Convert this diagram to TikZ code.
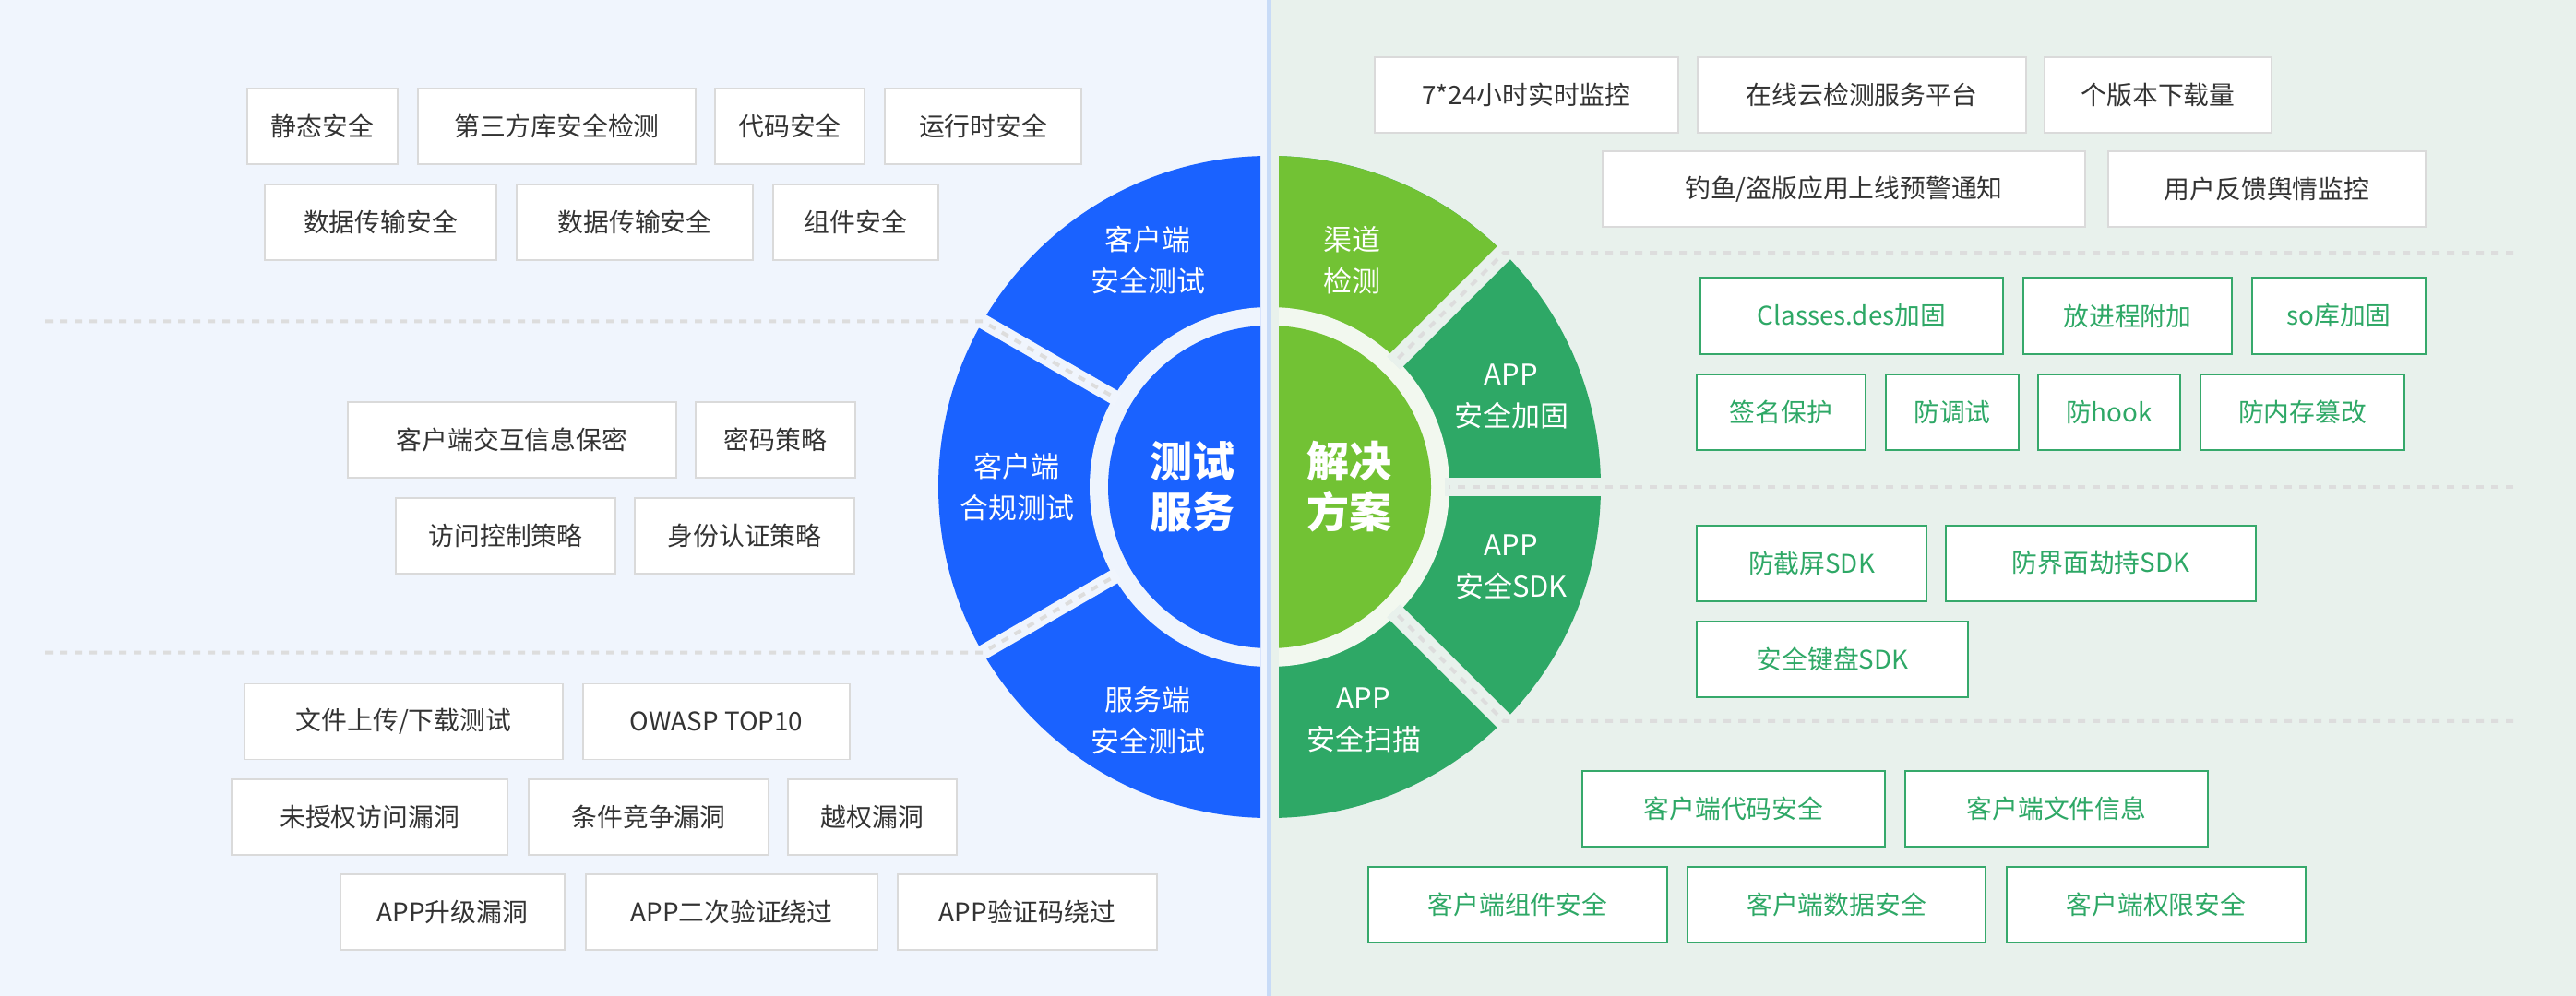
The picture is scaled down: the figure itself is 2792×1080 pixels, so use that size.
\documentclass[tikz,border=0pt]{standalone}
\usepackage{fontspec}
\setmainfont{Noto Sans CJK SC}
\definecolor{leftbg}{HTML}{F0F5FD}
\definecolor{rightbg}{HTML}{E8F1EC}
\definecolor{leftring}{HTML}{EEF4FD}
\definecolor{rightring}{HTML}{F2F8EF}
\definecolor{divc}{HTML}{C8DBF7}
\definecolor{cblue}{HTML}{1A62FF}
\definecolor{lgreen}{HTML}{72C234}
\definecolor{dgreen}{HTML}{2EA866}
\definecolor{boxgray}{HTML}{DADADA}
\definecolor{boxgreen}{HTML}{36A96B}
\definecolor{tgreen}{HTML}{2EA866}
\definecolor{txtdark}{HTML}{333333}
\definecolor{dashgray}{HTML}{DDDDDD}
\begin{document}
\begin{tikzpicture}[x=0.5pt,y=-0.5pt,
  box/.style={draw=boxgray, line width=0.85pt, fill=white, minimum height=41pt, inner sep=0pt, text=txtdark, font=\fontsize{13.9}{16}\selectfont},
  gbox/.style={box, draw=boxgreen, line width=1pt, text=tgreen},
  bw/.style={minimum width=#1*0.5pt},
  seglbl/.style={text=white, align=center, font=\fontsize{15.5}{22.5}\selectfont},
  ctr/.style={text=white, align=center, font=\fontsize{23}{27.5}\selectfont\bfseries},
  dashln/.style={draw=dashgray, line width=2pt, dash pattern=on 4pt off 4pt},
]
\useasboundingbox (0,0) rectangle (2792,1080);
\fill[leftbg] (0,0) rectangle (1376,1080);
\fill[rightbg] (1376,0) rectangle (2792,1080);

% left half
\begin{scope}
\clip (0,0) rectangle (1366,1080);
\fill[cblue] (1376,528) circle[radius=359];
\fill[leftring] (1376,528) circle[radius=195];
\draw[leftbg, line width=8pt] (1376,528) ++(210:190) -- ++(210:200);
\draw[leftbg, line width=8pt] (1376,528) ++(150:190) -- ++(150:200);
\end{scope}
% right half
\begin{scope}
\clip (1386,0) rectangle (2792,1080);
\fill[dgreen] (1376,528) circle[radius=359];
\fill[lgreen] (1376,528) -- ++(-90:359) arc[start angle=-90,end angle=-45,radius=359] -- cycle;
\fill[rightring] (1376,528) circle[radius=195];
\draw[rightbg, line width=10pt] (1376,528) ++(-45:190) -- ++(-45:200);
\draw[rightbg, line width=10pt] (1376,528) ++(0:190) -- ++(0:200);
\draw[rightbg, line width=10pt] (1376,528) ++(45:190) -- ++(45:200);
\end{scope}

% dashed separators
\coordinate (dl1a) at (49,348.5);
\coordinate (dl1b) at (1065.1,348.5);
\coordinate (dl1c) at (1207.1,430.5);
\coordinate (dl2a) at (49,707.5);
\coordinate (dl2b) at (1065.1,707.5);
\coordinate (dl2c) at (1207.1,625.5);
\coordinate (dr1a) at (2724,274.1);
\coordinate (dr1b) at (1629.9,274.1);
\coordinate (dr1c) at (1513.9,390.1);
\coordinate (dr2a) at (2724,528);
\coordinate (dr2c) at (1571,528);
\coordinate (dr3a) at (2724,781.9);
\coordinate (dr3b) at (1629.9,781.9);
\coordinate (dr3c) at (1513.9,665.9);
\draw[dashln] (dl1a) -- (dl1b) -- (dl1c);
\draw[dashln] (dl2a) -- (dl2b) -- (dl2c);
\draw[dashln] (dr1a) -- (dr1b) -- (dr1c);
\draw[dashln] (dr2a) -- (dr2c);
\draw[dashln] (dr3a) -- (dr3b) -- (dr3c);

% inner discs
\begin{scope}
\clip (0,0) rectangle (1366,1080);
\fill[cblue] (1376,528) circle[radius=175];
\end{scope}
\begin{scope}
\clip (1386,0) rectangle (2792,1080);
\fill[lgreen] (1376,528) circle[radius=175];
\end{scope}

% divider
\draw[divc, line width=2.5pt] (1375.5,0) -- (1375.5,1080);

% wheel labels
\node[seglbl] (s1) at (1244,282) {客户端\\安全测试};
\node[seglbl] (s2) at (1102,528) {客户端\\合规测试};
\node[seglbl] (s3) at (1244,781) {服务端\\安全测试};
\node[ctr] (c1) at (1292,528) {测试\\服务};
\node[ctr] (c2) at (1462,528) {解决\\方案};
\node[seglbl] (s4) at (1465,282) {渠道\\检测};
\node[seglbl] (s5) at (1638,430) {APP\\安全加固};
\node[seglbl] (s6) at (1638,615) {APP\\安全SDK};
\node[seglbl] (s7) at (1478,781) {APP\\安全扫描};

% left group 1
\node[box,bw=163] (a1) at (349.5,137) {静态安全};
\node[box,bw=301] (a2) at (603.5,137) {第三方库安全检测};
\node[box,bw=162] (a3) at (856,137) {代码安全};
\node[box,bw=213] (a4) at (1065.5,137) {运行时安全};
\node[box,bw=251] (a5) at (412.5,241) {数据传输安全};
\node[box,bw=256] (a6) at (688,241) {数据传输安全};
\node[box,bw=179] (a7) at (927.5,241) {组件安全};
% left group 2
\node[box,bw=356] (b1) at (555,477) {客户端交互信息保密};
\node[box,bw=173] (b2) at (840.5,477) {密码策略};
\node[box,bw=238] (b3) at (548,581) {访问控制策略};
\node[box,bw=238] (b4) at (807,581) {身份认证策略};
% left group 3
\node[box,bw=345] (c1b) at (437.5,782.5) {文件上传/下载测试};
\node[box,bw=289] (c2b) at (776.5,782.5) {OWASP TOP10};
\node[box,bw=299] (c3b) at (400.5,886) {未授权访问漏洞};
\node[box,bw=260] (c4b) at (703,886) {条件竞争漏洞};
\node[box,bw=183] (c5b) at (945.5,886) {越权漏洞};
\node[box,bw=243] (c6b) at (490.5,989) {APP升级漏洞};
\node[box,bw=316] (c7b) at (793,989) {APP二次验证绕过};
\node[box,bw=281] (c8b) at (1113.5,989) {APP验证码绕过};

% right gray group
\node[box,bw=329] (d1) at (1654.5,103) {7*24小时实时监控};
\node[box,bw=356] (d2) at (2018,103) {在线云检测服务平台};
\node[box,bw=246] (d3) at (2339,103) {个版本下载量};
\node[box,bw=523] (d4) at (1998.5,205) {钓鱼/盗版应用上线预警通知};
\node[box,bw=344] (d5) at (2457,205) {用户反馈舆情监控};
% green group 1
\node[gbox,bw=328] (e1) at (2007,342.5) {Classes.des加固};
\node[gbox,bw=226] (e2) at (2306,342.5) {放进程附加};
\node[gbox,bw=188] (e3) at (2535,342.5) {so库加固};
\node[gbox,bw=183] (e4) at (1930.5,446.5) {签名保护};
\node[gbox,bw=144] (e5) at (2116,446.5) {防调试};
\node[gbox,bw=154] (e6) at (2286,446.5) {防hook};
\node[gbox,bw=221] (e7) at (2495.5,446.5) {防内存篡改};
% green group 2
\node[gbox,bw=249] (f1) at (1963.5,610.5) {防截屏SDK};
\node[gbox,bw=336] (f2) at (2277,610.5) {防界面劫持SDK};
\node[gbox,bw=294] (f3) at (1986,714.5) {安全键盘SDK};
% green group 3
\node[gbox,bw=328] (g1) at (1879,876.5) {客户端代码安全};
\node[gbox,bw=328] (g2) at (2229,876.5) {客户端文件信息};
\node[gbox,bw=324] (g3) at (1645,980.5) {客户端组件安全};
\node[gbox,bw=323] (g4) at (1990.5,980.5) {客户端数据安全};
\node[gbox,bw=324] (g5) at (2337,980.5) {客户端权限安全};
\end{tikzpicture}
\end{document}
